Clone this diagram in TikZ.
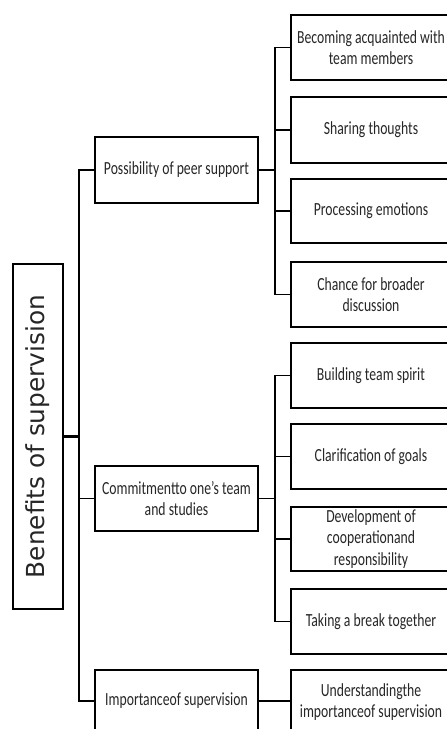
\documentclass[tikz,border=0pt]{standalone}
\usepackage{fontspec}
\newfontfamily\boxfont[FakeStretch=0.74]{Carlito}
\newfontfamily\rootfont{DejaVu Sans}
\definecolor{txt}{HTML}{262626}
\tikzset{
  box/.style={draw=black, line width=1.5pt, rectangle, inner sep=0pt, align=center,
              text=txt, font=\boxfont\fontsize{18.5}{21.5}\selectfont},
  midbox/.style={box, minimum width=163pt},
  leafbox/.style={box, minimum width=160pt},
  link/.style={draw=black, line width=1.5pt},
  rootlink/.style={draw=black, line width=2.3pt},
}
\begin{document}
\begin{tikzpicture}[x=1pt, y=-1pt]
  \clip (0,0) rectangle (447,729);

  % root
  \node[box, minimum width=50pt, minimum height=345pt] (root) at (38,436.5)
    {\rotatebox{90}{\rootfont\fontsize{24.8}{28}\selectfont Benefits of supervision}};

  % first level
  \node[midbox, minimum height=66pt] (p1) at (176.5,170) {Possibility of peer support};
  \node[midbox, minimum height=65pt] (p2) at (176.5,498.5) {Commitmentto one’s team\\and studies};
  \node[midbox, minimum height=62pt] (p3) at (176.5,701) {Importanceof supervision};

  % second level
  \node[leafbox, minimum height=65pt] (r1) at (371,47.5)  {Becoming acquainted with\\team members};
  \node[leafbox, minimum height=66pt] (r2) at (371,130)   {Sharing thoughts};
  \node[leafbox, minimum height=64pt] (r3) at (371,211)   {Processing emotions};
  \node[leafbox, minimum height=65pt] (r4) at (371,294.5) {Chance for broader\\discussion};
  \node[leafbox, minimum height=65pt] (r5) at (371,375.5) {Building team spirit};
  \node[leafbox, minimum height=65pt] (r6) at (371,456.5) {Clarification of goals};
  \node[leafbox, minimum height=64pt] (r7) at (371,539)   {Development of\\cooperationand\\responsibility};
  \node[leafbox, minimum height=65pt] (r8) at (371,621.5) {Taking a break together};
  \node[leafbox, minimum height=64pt] (r9) at (371,702)   {Understandingthe\\importanceof supervision};

  % trunks
  \coordinate (trunk) at (79,0);
  \coordinate (sub) at (275,0);

  \draw[rootlink] (root.east) -- (root.east -| trunk);
  \draw[link] (p1.west) -- (p1.west -| trunk) -- (p3.west -| trunk) -- (p3.west);
  \draw[link] (p2.west) -- (p2.west -| trunk);

  \draw[link] (p1.east) -- (p1.east -| sub);
  \draw[link] (r1.west) -- (r1.west -| sub) -- (r4.west -| sub) -- (r4.west);
  \draw[link] (r2.west) -- (r2.west -| sub);
  \draw[link] (r3.west) -- (r3.west -| sub);

  \draw[link] (p2.east) -- (p2.east -| sub);
  \draw[link] (r5.west) -- (r5.west -| sub) -- (r8.west -| sub) -- (r8.west);
  \draw[link] (r6.west) -- (r6.west -| sub);
  \draw[link] (r7.west) -- (r7.west -| sub);

  \draw[link] (p3.east) -- (p3.east -| r9.west);
\end{tikzpicture}
\end{document}
